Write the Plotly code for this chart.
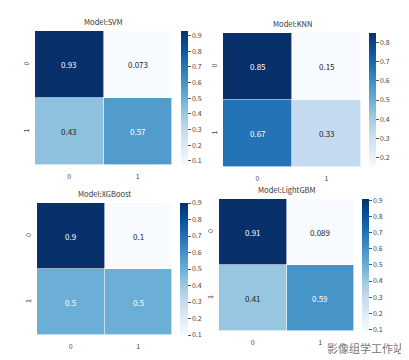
import plotly.graph_objects as go

W, H = 409, 360

models = ["SVM", "KNN", "XGBoost", "LightGBM"]
labels = ["0", "1"]
svm_vals = [[0.93, 0.073], [0.43, 0.57]]
knn_vals = [[0.85, 0.15], [0.67, 0.33]]
xgb_vals = [[0.9, 0.1], [0.5, 0.5]]
lgbm_vals = [[0.91, 0.089], [0.41, 0.59]]
cbar_ticks = {
    "SVM": [0.1, 0.2, 0.3, 0.4, 0.5, 0.6, 0.7, 0.8, 0.9],
    "KNN": [0.2, 0.3, 0.4, 0.5, 0.6, 0.7, 0.8],
    "XGBoost": [0.1, 0.2, 0.3, 0.4, 0.5, 0.6, 0.7, 0.8, 0.9],
    "LightGBM": [0.1, 0.2, 0.3, 0.4, 0.5, 0.6, 0.7, 0.8, 0.9],
}
values = {"SVM": svm_vals, "KNN": knn_vals, "XGBoost": xgb_vals, "LightGBM": lgbm_vals}

# pixel boxes: heatmap (x0, x1, y0, y1), colorbar x0, x1
boxes = {
    "SVM": ((27, 164, 23, 157), (173, 180)),
    "KNN": ((215, 353, 25, 159), (361, 368)),
    "XGBoost": ((29, 164, 195, 327), (172, 180)),
    "LightGBM": ((211, 346, 191, 323), (354, 361)),
}

blues = ['rgb(247,251,255)', 'rgb(222,235,247)', 'rgb(198,219,239)', 'rgb(158,202,225)',
         'rgb(107,174,214)', 'rgb(66,146,198)', 'rgb(33,113,181)', 'rgb(8,81,156)', 'rgb(8,48,107)']
blues_rgb = [tuple(int(v) for v in c[4:-1].split(",")) for c in blues]
colorscale = [[i / 8, c] for i, c in enumerate(blues)]


def interp(t):
    t = min(max(t, 0), 1) * 8
    i = min(int(t), 7)
    f = t - i
    a, b = blues_rgb[i], blues_rgb[i + 1]
    return tuple(a[k] + (b[k] - a[k]) * f for k in range(3))


def lum(rgb):
    out = []
    for c in rgb:
        c = c / 255
        out.append(c / 12.92 if c <= 0.03928 else ((c + 0.055) / 1.055) ** 2.4)
    return 0.2126 * out[0] + 0.7152 * out[1] + 0.0722 * out[2]


def fmt(v):
    return f"{v:.2g}"


fig = go.Figure()
FONT = "Noto Sans CJK SC"
annotations = []
for k, m in enumerate(models):
    z = values[m]
    (x0, x1, y0, y1), (c0, c1) = boxes[m]
    n = k + 1
    xa = "x" if n == 1 else f"x{n}"
    ya = "y" if n == 1 else f"y{n}"
    zmin = min(min(r) for r in z)
    zmax = max(max(r) for r in z)
    fig.add_trace(go.Heatmap(
        z=z, x=[0, 1], y=[0, 1], xaxis=xa, yaxis=ya,
        colorscale=colorscale, zmin=zmin, zmax=zmax, xgap=0.6, ygap=0.6,
        hoverinfo="skip",
        colorbar=dict(
            x=c0 / W, xanchor="left", y=1 - (y0 + y1) / 2 / H, yanchor="middle",
            len=(y1 - y0) / H, lenmode="fraction", thickness=c1 - c0, thicknessmode="pixels",
            xpad=0, ypad=0, outlinewidth=0, tickvals=cbar_ticks[m],
            ticks="outside", ticklen=3, tickwidth=1, tickcolor="#555",
            tickfont=dict(size=7, color="#444", family=FONT),
        ),
    ))
    fig.update_layout(**{
        ("xaxis" if n == 1 else f"xaxis{n}"): dict(
            domain=[x0 / W, x1 / W], anchor=ya, range=[-0.5, 1.5],
            tickvals=[0, 1], ticktext=labels, showgrid=False, zeroline=False,
            showline=False, ticks="", ticklabelstandoff=6,
            tickfont=dict(size=7, color="#444", family=FONT),
        ),
        ("yaxis" if n == 1 else f"yaxis{n}"): dict(
            domain=[1 - y1 / H, 1 - y0 / H], anchor=xa, range=[1.5, -0.5],
            tickvals=[0, 1], ticktext=labels, showgrid=False, zeroline=False,
            showline=False, ticks="", tickangle=-90, ticklabelstandoff=4,
            tickfont=dict(size=7, color="#444", family=FONT),
        ),
    })
    annotations.append(dict(
        text=f"Model:{m}", x=(x0 + x1) / 2 / W, y=1 - (y0 - 2) / H, xref="paper", yref="paper",
        xanchor="center", yanchor="bottom", showarrow=False,
        font=dict(size=7.5, color="#333", family=FONT),
    ))
    for i, row in enumerate(z):
        for j, v in enumerate(row):
            t = (v - zmin) / (zmax - zmin)
            col = "#ffffff" if lum(interp(t)) < 0.408 else "#262626"
            annotations.append(dict(
                text=fmt(v), x=j, y=i, xref=xa, yref=ya, showarrow=False,
                font=dict(size=8, color=col, family=FONT),
            ))

annotations.append(dict(
    text="影像组学工作站", x=398 / W, y=1 - 340 / H, xref="paper", yref="paper",
    xanchor="right", yanchor="middle", showarrow=False,
    font=dict(size=11, color="#777", family=FONT),
))

fig.update_layout(
    width=W, height=H, margin=dict(l=0, r=0, t=0, b=0),
    paper_bgcolor="white", plot_bgcolor="white",
    annotations=annotations, showlegend=False,
)
fig.write_html("out.html")
